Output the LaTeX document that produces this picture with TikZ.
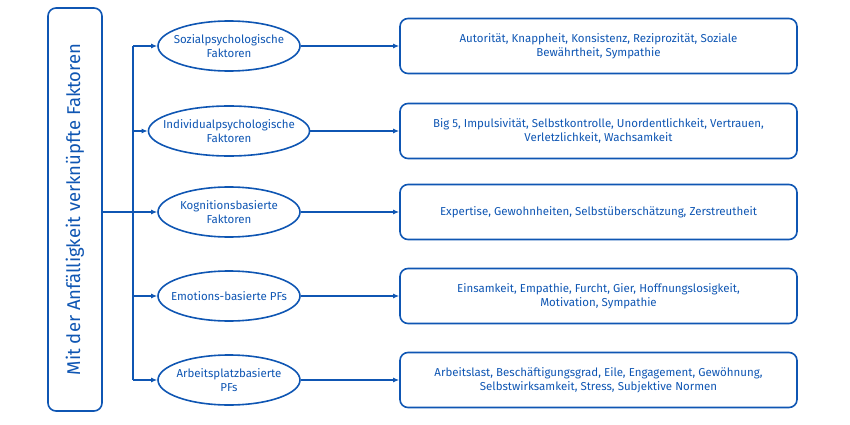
\documentclass[tikz,border=0pt]{standalone}
\usepackage{fontspec}
\setmainfont{Fira Sans}
\usetikzlibrary{shapes.geometric}
\usetikzlibrary{arrows.meta}
\usetikzlibrary{positioning}
\definecolor{faktorblau}{HTML}{0F56B3}
\tikzset{>={Latex[length=6pt,width=5pt]}}
\tikzset{
	rahmen/.style={draw=faktorblau, line width=1.6pt, rounded corners=8pt},
	gruppe/.style={ellipse, draw=faktorblau, line width=1.6pt, minimum width=142pt, minimum height=50pt, inner xsep=-9pt, inner ysep=0pt, align=center, text=faktorblau, font=\fontsize{11.5}{14}\selectfont},
	liste/.style={rahmen, minimum width=397pt, minimum height=55pt, align=center, text=faktorblau, font=\fontsize{11.5}{14}\selectfont},
	linie/.style={draw=faktorblau, line width=1.6pt}
}
\begin{document}
\begin{tikzpicture}[x=1pt,y=-1pt]
	\useasboundingbox (0,0) rectangle (850,425);
	%linke Box
	\node[rahmen, minimum width=54pt, minimum height=403pt] (haupt) at (75,209.5) {};
	\node[rotate=90, text=faktorblau, font=\fontsize{18.5}{22}\selectfont] (titel) at (haupt) {Mit der Anfälligkeit verknüpfte Faktoren};
	%Gruppen
	\node[gruppe] (sozial) at (229,46) {Sozialpsychologische\\Faktoren};
	\node[gruppe] (indiv) at (229,131) {Individualpsychologische\\Faktoren};
	\node[gruppe] (kogn) at (229,212) {Kognitionsbasierte\\Faktoren};
	\node[gruppe] (emo) at (229,296) {Emotions-basierte PFs};
	\node[gruppe] (arbeit) at (229,380) {Arbeitsplatzbasierte\\PFs};
	%Listen
	\node[liste] (lsozial) at (598.5,46) {Autorität, Knappheit, Konsistenz, Reziprozität, Soziale\\Bewährtheit, Sympathie};
	\node[liste] (lindiv) at (598.5,131) {Big 5, Impulsivität, Selbstkontrolle, Unordentlichkeit, Vertrauen,\\Verletzlichkeit, Wachsamkeit};
	\node[liste] (lkogn) at (598.5,212) {Expertise, Gewohnheiten, Selbstüberschätzung, Zerstreutheit};
	\node[liste] (lemo) at (598.5,296) {Einsamkeit, Empathie, Furcht, Gier, Hoffnungslosigkeit,\\Motivation, Sympathie};
	\node[liste] (larbeit) at (598.5,380) {Arbeitslast, Beschäftigungsgrad, Eile, Engagement, Gewöhnung,\\Selbstwirksamkeit, Stress, Subjektive Normen};
	%Stamm
	\coordinate (ast) at (133,212);
	\draw[linie] (haupt.east |- ast) -- (ast);
	\draw[linie] (ast |- sozial) -- (ast |- arbeit);
	\foreach \g/\l in {sozial/lsozial, indiv/lindiv, kogn/lkogn, emo/lemo, arbeit/larbeit}{
		\draw[linie,->] (ast |- \g) -- (\g.west);
		\draw[linie,->] (\g.east) -- (\l.west);
	}
\end{tikzpicture}
\end{document}
